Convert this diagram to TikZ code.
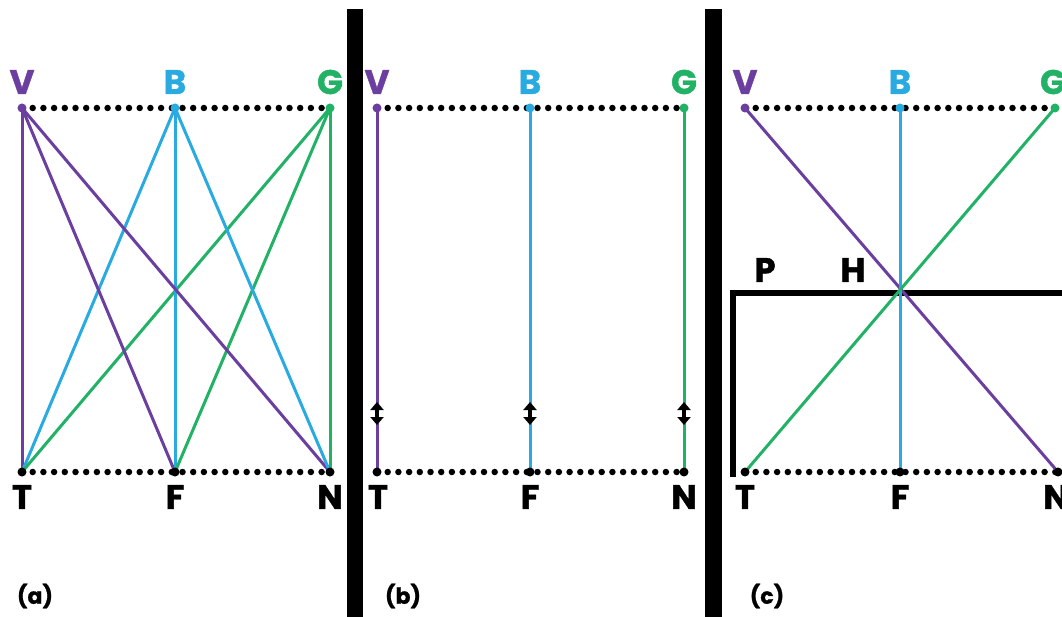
\documentclass[tikz,border=0pt]{standalone}
\usepackage{fontspec}
\setmainfont{Poppins}[BoldFeatures={FakeBold=1.2}]
\usetikzlibrary{arrows.meta}
\definecolor{cV}{HTML}{6A3FA0}
\definecolor{cB}{HTML}{29ABE2}
\definecolor{cG}{HTML}{22B266}
\tikzset{
  lab/.style={font=\fontsize{34}{34}\selectfont\bfseries, inner sep=0pt},
  plab/.style={font=\fontsize{22}{22}\selectfont\bfseries, inner sep=0pt},
  dots/.style={line width=6.5pt, line cap=round, dash pattern=on 0pt off 10.7pt},
  cl/.style={line width=3pt},
  bar/.style={fill=black},
  enddot/.style={circle, fill=#1, inner sep=0pt, minimum size=9pt},
  dbl/.style={line width=4pt, {Triangle[length=8pt,width=13pt]}-{Triangle[length=8pt,width=13pt]}}
}
\begin{document}
\begin{tikzpicture}[x=1pt,y=-1pt]
\path[use as bounding box, fill=white] (0,0) rectangle (1062,617);
\begin{scope}
\clip (0,0) rectangle (1062,617);
% panel separators
\fill[bar] (347,9) rectangle (363,617);
\fill[bar] (705,9) rectangle (722,617);

% ---------- panel (a)
\coordinate (aV) at (22,108); \coordinate (aB) at (175,108); \coordinate (aG) at (330,108);
\coordinate (aT) at (22,472); \coordinate (aF) at (175,472); \coordinate (aN) at (330,472);
\draw[dots] (aV) -- (aG);
\draw[dots] (aT) -- (aN);
\foreach \e in {aT,aF,aN}{
  \draw[cl,cV] (aV) -- (\e);
  \draw[cl,cB] (aB) -- (\e);
  \draw[cl,cG] (aG) -- (\e);
}
\node[enddot=cV] at (aV) {}; \node[enddot=cB] at (aB) {}; \node[enddot=cG] at (aG) {};
\node[enddot=black] at (aT) {}; \node[enddot=black] at (aF) {}; \node[enddot=black] at (aN) {};
\node[lab,text=cV] (aVl) at (22,82) {V};
\node[lab,text=cB] (aBl) at (175,82) {B};
\node[lab,text=cG] (aGl) at (330,82) {G};
\node[lab] (aTl) at (22,497) {T};
\node[lab] (aFl) at (175,497) {F};
\node[lab] (aNl) at (330,497) {N};
\node[plab] (pa) at (35,596) {(a)};

% ---------- panel (b)
\coordinate (bV) at (377,108); \coordinate (bB) at (530,108); \coordinate (bG) at (684,108);
\coordinate (bT) at (377,472); \coordinate (bF) at (530,472); \coordinate (bN) at (684,472);
\draw[dots] (bV) -- (bG);
\draw[dots] (bT) -- (bN);
\draw[cl,cV] (bV) -- (bT);
\draw[cl,cB] (bB) -- (bF);
\draw[cl,cG] (bG) -- (bN);
\node[enddot=cV] at (bV) {}; \node[enddot=cB] at (bB) {}; \node[enddot=cG] at (bG) {};
\node[enddot=black] at (bT) {}; \node[enddot=black] at (bF) {}; \node[enddot=black] at (bN) {};
\foreach \x/\n in {377/bA1,530/bA2,684/bA3}{
  \coordinate (\n t) at (\x,402); \coordinate (\n b) at (\x,425);
  \draw[dbl] (\n t) -- (\n b);
}
\node[lab,text=cV] (bVl) at (377,82) {V};
\node[lab,text=cB] (bBl) at (530,82) {B};
\node[lab,text=cG] (bGl) at (684,82) {G};
\node[lab] (bTl) at (378,497) {T};
\node[lab] (bFl) at (530,497) {F};
\node[lab] (bNl) at (684,497) {N};
\node[plab] (pb) at (403,596) {(b)};

% ---------- panel (c)
\coordinate (cVp) at (745,108); \coordinate (cBp) at (900,108); \coordinate (cGp) at (1055,108);
\coordinate (cTp) at (745,472); \coordinate (cFp) at (900,472); \coordinate (cNp) at (1058,472);
\coordinate (cP0) at (733,477); \coordinate (cP1) at (733,293); \coordinate (cP2) at (1070,293);
\draw[line width=6.5pt] (cP0) -- (cP1) -- (cP2);
\draw[dots] (cVp) -- (cGp);
\draw[dots] (cTp) -- (cNp);
\draw[cl,cV] (cVp) -- (cNp);
\draw[cl,cB] (cBp) -- (cFp);
\draw[cl,cG] (cGp) -- (cTp);
\node[enddot=cV] at (cVp) {}; \node[enddot=cB] at (cBp) {}; \node[enddot=cG] at (cGp) {};
\node[enddot=black] at (cTp) {}; \node[enddot=black] at (cFp) {}; \node[enddot=black] at (cNp) {};
\node[lab,text=cV] (cVl) at (745,82) {V};
\node[lab,text=cB] (cBl) at (900,82) {B};
\node[lab,text=cG] (cGl) at (1053,82) {G};
\node[lab] (cTl) at (745,497) {T};
\node[lab] (cFl) at (900,497) {F};
\node[lab] (cNl) at (1056,497) {N};
\node[lab] (cPl) at (765,270) {P};
\node[lab] (cHl) at (853,270) {H};
\node[plab] (pc) at (767,596) {(c)};
\end{scope}
\end{tikzpicture}
\end{document}
